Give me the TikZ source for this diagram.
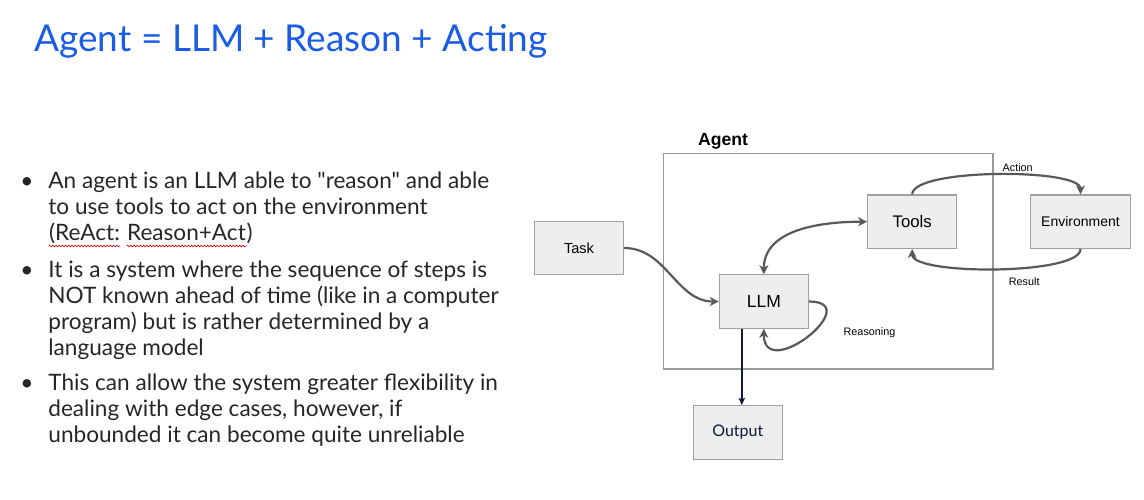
\documentclass[tikz,border=0pt]{standalone}
\usepackage{fontspec}
\newfontfamily\slidefont{Lato}
\newfontfamily\arialfont{Liberation Sans}
\usetikzlibrary{arrows.meta,decorations.pathmorphing}
\definecolor{title blue}{HTML}{1A5CE5}
\definecolor{body text}{HTML}{262626}
\definecolor{box edge}{HTML}{A0A0A0}
\definecolor{box area}{HTML}{EEEEEE}
\definecolor{frame edge}{HTML}{999999}
\definecolor{link gray}{HTML}{595959}
\definecolor{out navy}{HTML}{101B3B}
\tikzset{block/.style={fill=box area, draw=box edge, line width=0.6pt,
        minimum width=44.5pt, minimum height=26.75pt, inner sep=0pt},
    link/.style={draw=link gray, line width=1.1pt},
    bullet text/.style={anchor=base west, inner sep=0pt,
        text=body text, font=\slidefont\fontsize{11.3}{13}\selectfont}}
\newcommand{\spellmark}[1]{\tikz[baseline=(w.base)]{\node[inner sep=0pt, anchor=base] (w) {#1};
    \draw[red!85!black, line width=0.3pt, decorate, decoration={snake, amplitude=0.45pt, segment length=1.6pt}]
    ([yshift=-3pt]w.base west) -- ([yshift=-3pt]w.base east);}}
\newcommand{\itemlines}[1]{\parbox[t]{250pt}{\raggedright #1}}

\begin{document}
\begin{tikzpicture}[x=0.5pt,y=0.5pt,>={Stealth[length=4.5pt,width=4.5pt,inset=1.4pt]}]
\useasboundingbox (0,0) rectangle (1144,-499);
% slide text
\node[anchor=base west, inner sep=0pt, text=title blue, font=\slidefont\fontsize{18.5}{22}\selectfont]
    (title) at (34,-51) {Agent = LLM + Reason + Acting};
\node[bullet text] (dot1) at (20,-188) {\textbullet};
\node[bullet text] (item1) at (48,-188) {\itemlines{An agent is an LLM able to "reason" and able\\
    to use tools to act on the environment\\
    \spellmark{(ReAct:} \spellmark{Reason+Act})}};
\node[bullet text] (dot2) at (20,-277) {\textbullet};
\node[bullet text] (item2) at (48,-277) {\itemlines{It is a system where the sequence of steps is\\
    NOT known ahead of time (like in a computer\\
    program) but is rather determined by a\\
    language model}};
\node[bullet text] (dot3) at (20,-390) {\textbullet};
\node[bullet text] (item3) at (48,-390) {\itemlines{This can allow the system greater flexibility in\\
    dealing with edge cases, however, if\\
    unbounded it can become quite unreliable}};
% diagram
\node[draw=frame edge, line width=0.65pt, minimum width=164.85pt, minimum height=107.85pt, inner sep=0pt]
    (agent) at (828.2,-261.2) {};
\node[font=\arialfont\bfseries\fontsize{8.8}{10}\selectfont] (agenttitle) at (723,-141.5) {Agent};
\node[block, font=\arialfont\fontsize{7.3}{8.8}\selectfont] (task) at (579,-248) {Task};
\node[block, font=\arialfont\fontsize{8.75}{10}\selectfont] (llm) at (763.8,-301.5) {LLM};
\node[block, font=\arialfont\fontsize{8.4}{10}\selectfont] (tools) at (912.2,-221.7) {Tools};
\node[block, minimum width=50.2pt, font=\arialfont\fontsize{7}{8.4}\selectfont] (env) at (1080.5,-221.7) {Environment};
\node[block, text=out navy, font=\slidefont\fontsize{8}{9.6}\selectfont] (output) at (737.8,-432.5) {Output};
\draw[link,->] (task.east) to[out=0,in=180] (llm.west);
\draw[link,<->] (llm.north) to[out=90,in=180] (tools.west);
\draw[link,->] (tools.north) to[out=90,in=90,looseness=0.4] (env.north);
\draw[link,->] (env.south) to[out=-90,in=-90,looseness=0.4] (tools.south);
\draw[link,->] (llm.east) .. controls +(58,0) and +(0,-55) .. (llm.south);
\draw[draw=out navy, line width=1pt, -{Stealth[length=3.5pt,width=3pt,inset=0.5pt]}]
    ([xshift=2pt]output.north |- llm.south) -- ([xshift=2pt]output.north);
\node[font=\arialfont\fontsize{5.4}{6.5}\selectfont] (action) at (1017.7,-167.3) {Action};
\node[font=\arialfont\fontsize{5.4}{6.5}\selectfont] (result) at (1024.2,-281.7) {Result};
\node[font=\arialfont\fontsize{5.4}{6.5}\selectfont] (reasoning) at (869.5,-333) {Reasoning};
\end{tikzpicture}
\end{document}
